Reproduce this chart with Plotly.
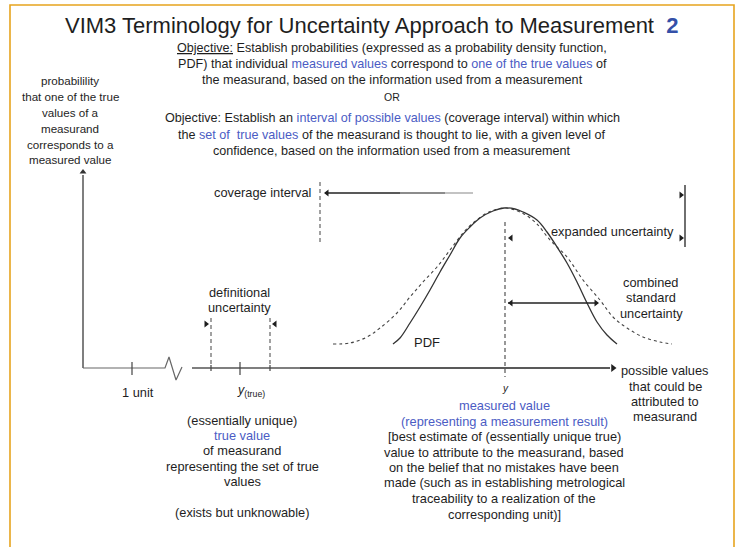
import plotly.graph_objects as go

# ---------------- data ----------------
# PDF curve (solid) : x positions, vertical positions (screen units, y grows downward)
pdf_x = [393, 400, 410, 420, 430, 440, 450, 460, 470, 480, 493, 504,
         515, 523, 537, 547, 557, 567, 577, 587, 597, 607, 617]
pdf_y = [344, 338, 323, 307, 290, 272, 255, 238, 227, 218, 211, 208,
         209, 212, 220, 232, 247, 263, 282, 303, 322, 335, 344]
# wider (dashed) distribution
wide_x = [333, 350, 367, 380, 397, 410, 423, 437, 450, 463, 473, 487, 504,
          520, 535, 550, 567, 583, 600, 613, 627, 643, 660, 672]
wide_y = [344, 343, 337, 328, 313, 297, 282, 267, 250, 233, 223, 213, 208,
          212, 222, 240, 257, 280, 300, 317, 328, 337, 342, 344]

title_main = "VIM3 Terminology for Uncertainty Approach to Measurement"
title_num = "2"

BLUE = "#4b5cc4"
INK = "#1e1e1e"


def blue(s):
    return f"<span style='color:{BLUE}'>{s}</span>"


objective_lines = [
    "<u>Objective:</u> Establish probabilities (expressed as a probability density function,",
    "PDF) that individual " + blue("measured values") + " correspond to " + blue("one of the true values") + " of",
    "the measurand, based on the information used from a measurement",
    "OR",
    "Objective: Establish an " + blue("interval of possible values") + " (coverage interval) within which",
    "the " + blue("set of&nbsp; true values") + " of the measurand is thought to lie, with a given level of",
    "confidence, based on the information used from a measurement",
]
objective_y = [48, 64, 80, 97, 118, 135, 151]

ylabel_lines = ["probabilility", "that one of the true", "values of a", "measurand",
                "corresponds to a", "measured value"]
ylabel_y = [80, 96, 112, 128, 144, 159]

xlabel_lines = ["possible values", "that could be", "attributed to", "measurand"]
xlabel_y = [370, 386, 401, 416]

true_lines = ["(essentially unique)", blue("true value"), "of measurand",
              "representing the set of true", "values", "", "(exists but unknowable)"]
true_y = [420, 435, 450, 466, 481, 496, 512]

meas_lines = [blue("measured value"), blue("(representing a measurement result)"),
              "[best estimate of (essentially unique true)",
              "value to attribute to the measurand, based",
              "on the belief that no mistakes have been",
              "made (such as in establishing metrological",
              "traceability to a realization of the",
              "corresponding unit)]"]
meas_y = [405, 421, 436, 452, 467, 482, 498, 514]

# ---------------- figure ----------------
fig = go.Figure()


def line(xs, ys, color=INK, width=1.3, dash="solid", shape="linear"):
    fig.add_trace(go.Scatter(x=xs, y=ys, mode="lines", hoverinfo="skip",
                             line=dict(color=color, width=width, dash=dash, shape=shape)))


def head(x, y, sym, size=6, color=INK):
    fig.add_trace(go.Scatter(x=[x], y=[y], mode="markers", hoverinfo="skip",
                             marker=dict(symbol=sym, size=size, color=color)))


# border
line([10, 10, 734, 734], [560, 5, 5, 560], color="#e6a41e", width=1.6)

# axes
line([83, 83], [368, 175], color="#555555", width=1.5)
head(83, 172, "triangle-up", 6, "#333333")
line([83, 165, 169, 176, 182], [368, 368, 357, 380, 367], color="#666666", width=1.2)
line([192, 300], [368, 368], color="#555555", width=1.4)
line([300, 610], [368, 368], color="#222222", width=1.5)
head(613, 368, "triangle-right", 7, "#222222")

# ticks
line([132, 132], [362, 375], color="#444444", width=1.2)
line([240, 240], [362, 375], color="#444444", width=1.2)
line([211, 211], [365, 371], color="#444444", width=1.2)
line([270, 270], [365, 371], color="#444444", width=1.2)

# dashed guides
line([505, 505], [222, 377], color="#444444", width=1.1, dash="4px,3px")
line([320, 320], [182, 243], color="#555555", width=1.1, dash="4px,3px")
line([211, 211], [318, 366], color="#555555", width=1.1, dash="4px,3px")
line([270, 270], [318, 366], color="#555555", width=1.1, dash="4px,3px")

# distributions
line(wide_x, wide_y, color="#444444", width=1.1, dash="3px,3px", shape="spline")
line(pdf_x, pdf_y, color="#333333", width=1.3, shape="spline")

# coverage interval
line([325, 400], [193, 193], color="#222222", width=1.4)
line([400, 445], [193, 193], color="#666666", width=1.4)
line([445, 473], [193, 193], color="#aaaaaa", width=1.4)
head(327, 193, "triangle-left", 6)
line([685, 685], [185, 247], color="#333333", width=1.4)
head(681, 195, "triangle-right", 6)

# expanded uncertainty
head(511, 238, "triangle-left", 6)
head(681, 238, "triangle-right", 6)

# combined standard uncertainty
line([508, 598], [303, 303], color="#222222", width=1.4)
head(511, 303, "triangle-left", 6)
head(596, 303, "triangle-right", 6)

# definitional uncertainty
head(206, 324, "triangle-right", 6)
head(275, 324, "triangle-left", 6)

FONT = "Liberation Sans, Arial, sans-serif"
BODY = 12.8


def text(x, y, s, size=BODY, anchor="center", color=INK):
    fig.add_annotation(x=x, y=y, text=s, showarrow=False, xanchor=anchor, yanchor="middle",
                       font=dict(family=FONT, size=size, color=color))


text(371, 25, title_main + "&nbsp;&nbsp;" +
     f"<b><span style='color:#3450a8'>{title_num}</span></b>", size=22)

for s, yy in zip(objective_lines, objective_y):
    text(392, yy, s, size=10.5 if s == "OR" else 12.6)
for s, yy in zip(ylabel_lines, ylabel_y):
    text(70, yy, s, size=11.6)
for s, yy in zip(xlabel_lines, xlabel_y):
    text(665, yy, s)
for s, yy in zip(true_lines, true_y):
    if s:
        text(242, yy, s)
for s, yy in zip(meas_lines, meas_y):
    text(504, yy, s)

text(313, 192, "coverage interval", anchor="right")
text(239, 292, "definitional")
text(239, 307, "uncertainty")
text(612, 231, "expanded uncertainty")
text(651, 282, "combined")
text(651, 297, "standard")
text(651, 313, "uncertainty")
text(427, 342, "PDF", size=13)
text(138, 392, "1 unit")
text(235, 391, "<i>y</i><sub>(true)</sub>", anchor="left", size=12.5)
text(505, 388, "<i>y</i>", size=10)

fig.update_layout(
    width=739, height=547, autosize=False,
    margin=dict(l=0, r=0, t=0, b=0),
    paper_bgcolor="white", plot_bgcolor="white",
    showlegend=False, hovermode=False,
    xaxis=dict(range=[0, 739], visible=False, fixedrange=True),
    yaxis=dict(range=[547, 0], visible=False, fixedrange=True),
)

fig.write_html("out.html", config={"displayModeBar": False},
               post_script="document.body.style.margin='0';")
